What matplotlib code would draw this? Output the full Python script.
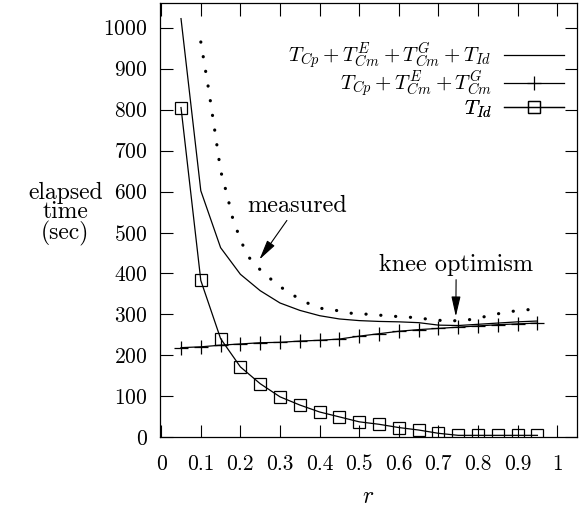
import numpy as np
import matplotlib
matplotlib.use("Agg")
import matplotlib.pyplot as plt

plt.rcParams['font.family'] = 'cmr10'
plt.rcParams['mathtext.fontset'] = 'cm'
plt.rcParams['axes.formatter.use_mathtext'] = True

# data
r = [0.05, 0.1, 0.15, 0.2, 0.25, 0.3, 0.35, 0.4, 0.45, 0.5,
     0.55, 0.6, 0.65, 0.7, 0.75, 0.8, 0.85, 0.9, 0.95]
t_total = [1022, 602, 463, 398, 358, 328, 310, 297, 289, 285,
           283, 282, 280, 274, 273, 276, 279, 282, 284]
t_comm = [219, 221, 225, 228, 231, 232, 235, 237, 240, 247,
          253, 259, 263, 266, 269, 272, 275, 277, 279]
t_id = [805, 383, 241, 172, 131, 99, 79, 62, 50, 38,
        32, 24, 18, 10, 5, 5, 5, 5, 5]

r_meas = [0.10, 0.12, 0.138, 0.15, 0.166, 0.18, 0.2, 0.22, 0.25, 0.276, 0.3,
          0.327, 0.352, 0.378, 0.403, 0.43, 0.48, 0.53, 0.58, 0.63, 0.68,
          0.73, 0.75, 0.79, 0.83, 0.88, 0.93, 0.96]
t_meas = [965, 848, 731, 651, 593, 537, 482, 441, 409, 387, 368,
          351, 336, 324, 315, 312, 303, 300, 296, 293, 288,
          283, 286, 288, 298, 307, 312, 316]

fig = plt.figure(figsize=(5.84, 5.08), dpi=100)
ax = fig.add_axes([0.274, 0.139, 0.714, 0.855])

l1, = ax.plot(r, t_total, color='k', lw=0.9)
l2, = ax.plot(r, t_comm, color='k', lw=0.9, marker='+', ms=10, mew=0.9)
l3, = ax.plot(r, t_id, color='k', lw=0.9, marker='s', ms=8.5, mew=0.9,
              fillstyle='none')
ax.plot(r_meas, t_meas, color='k', lw=2.3, linestyle=(0, (0.05, 4.6)),
        dash_capstyle='round')

ax.set_xlim(-0.003, 1.05)
ax.set_ylim(0, 1060)
ax.set_xticks(np.arange(0, 1.01, 0.1))
ax.set_xticklabels(['0', '0.1', '0.2', '0.3', '0.4', '0.5', '0.6', '0.7',
                    '0.8', '0.9', '1'])
ax.set_yticks(np.arange(0, 1001, 100))
ax.tick_params(direction='in', length=9, width=0.8, top=True, right=True,
               labelsize=15.5)
ax.tick_params(axis='x', pad=12)
ax.tick_params(axis='y', pad=9)
for s in ax.spines.values():
    s.set_linewidth(0.9)

ax.set_xlabel('$r$', fontsize=17, labelpad=9)
ax.set_ylabel('elapsed\ntime\n(sec)', rotation=0, fontsize=17,
              ha='center', va='center', linespacing=0.85)
ax.yaxis.set_label_coords(-0.227, 0.515)

ax.annotate('measured', xy=(0.248, 434), xytext=(0.344, 566),
            fontsize=17.5, ha='center', va='center',
            arrowprops=dict(arrowstyle='-|>,head_length=0.7,head_width=0.16',
                            color='k', lw=0.8, shrinkA=1, shrinkB=0))
ax.annotate('knee optimism', xy=(0.744, 295), xytext=(0.745, 422),
            fontsize=17.5, ha='center', va='center',
            arrowprops=dict(arrowstyle='-|>,head_length=0.7,head_width=0.16',
                            color='k', lw=0.8, shrinkA=1, shrinkB=0))

# one legend per row so the rows sit as tight as in the reference
entries = [(l1, r'$T_{Cp}+T_{Cm}^{E}+T_{Cm}^{G}+T_{Id}$', 0.878),
           (l2, r'$T_{Cp}+T_{Cm}^{E}+T_{Cm}^{G}$', 0.814),
           (l3, r'$T_{Id}$', 0.756)]
for h, lab, yy in entries:
    leg = ax.legend([h], [lab], loc='center right',
                    bbox_to_anchor=(0.995, yy), frameon=False,
                    markerfirst=False, fontsize=15, handlelength=2.9,
                    borderpad=0, handletextpad=0.6)
    ax.add_artist(leg)

fig.savefig('out.png', dpi=100)
